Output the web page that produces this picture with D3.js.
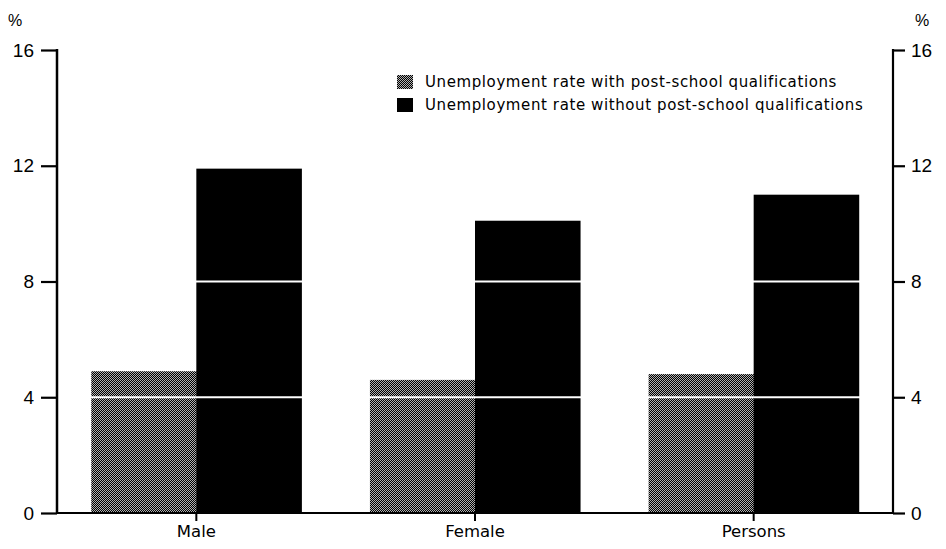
<!DOCTYPE html>
<html><head><meta charset="utf-8">
<script src="https://cdn.jsdelivr.net/npm/d3@7"></script>
<style>
html,body{margin:0;padding:0;background:#fff;}
text{font-family:"Liberation Sans",Arial,sans-serif;fill:#000;}
</style></head>
<body>
<svg id="chart" width="946" height="549"></svg>
<script>
const categories = ["Male", "Female", "Persons"];
const seriesNames = ["Unemployment rate with post-school qualifications",
                     "Unemployment rate without post-school qualifications"];
const withQual = [4.9, 4.6, 4.8];
const withoutQual = [11.9, 10.1, 11.0];
const yTicks = [0, 4, 8, 12, 16];

const svg = d3.select("#chart");
const left = 57, right = 893, yBottom = 513, yTop = 50;

const defs = svg.append("defs");
const pat = defs.append("pattern").attr("id","dither").attr("patternUnits","userSpaceOnUse")
  .attr("width",2).attr("height",2);
pat.append("rect").attr("width",2).attr("height",2).attr("fill","#000");
pat.append("rect").attr("x",0).attr("y",0).attr("width",1).attr("height",1).attr("fill","#b0b0b0");
pat.append("rect").attr("x",1).attr("y",1).attr("width",1).attr("height",1).attr("fill","#b0b0b0");

const x = d3.scaleBand().domain(categories).range([left, right]).paddingInner(0.246).paddingOuter(0.123);
const sub = d3.scaleBand().domain([0,1]).range([0, x.bandwidth()]);
const y = d3.scaleLinear().domain([0,16]).range([yBottom, yTop]);

const fills = ["url(#dither)", "#000"];
const data = categories.map((c,i)=>({cat:c, vals:[withQual[i], withoutQual[i]]}));

const g = svg.append("g");
data.forEach(d=>{
  d.vals.forEach((v,k)=>{
    g.append("rect")
      .attr("x", x(d.cat)+sub(k))
      .attr("y", y(v))
      .attr("width", sub.bandwidth()+0.5)
      .attr("height", y(0)-y(v))
      .attr("fill", fills[k]);
  });
});

// white gridlines across bars
svg.append("g").selectAll("line").data(yTicks.filter(t=>t>0 && t<16)).join("line")
  .attr("x1", left+1).attr("x2", right-1)
  .attr("y1", d=>y(d)).attr("y2", d=>y(d))
  .attr("stroke","#fff").attr("stroke-width",2);

// left axis
const leftAxis = d3.axisLeft(y).tickValues(yTicks).tickSize(16).tickPadding(7).tickFormat(d3.format("d"));
const gl = svg.append("g").attr("transform",`translate(${left},0)`).call(leftAxis);
// right axis
const rightAxis = d3.axisRight(y).tickValues(yTicks).tickSize(12).tickPadding(6).tickFormat(d3.format("d"));
const gr = svg.append("g").attr("transform",`translate(${right},0)`).call(rightAxis);
[gl,gr].forEach(a=>{
  a.select(".domain").remove();
  a.selectAll(".tick line").attr("stroke","#000").attr("stroke-width",2.2);
  a.selectAll(".tick text").style("font-size","19px");
});
svg.append("line").attr("x1",left).attr("x2",left).attr("y1",y(16)-1).attr("y2",y(0)+1).attr("stroke","#000").attr("stroke-width",2.5);
svg.append("line").attr("x1",right).attr("x2",right).attr("y1",y(16)-1).attr("y2",y(0)+1).attr("stroke","#000").attr("stroke-width",2.2);

// x axis
const xAxis = d3.axisBottom(x).tickSize(8).tickPadding(4);
const gx = svg.append("g").attr("transform",`translate(0,${yBottom})`).call(xAxis);
gx.select(".domain").remove();
gx.selectAll(".tick line").attr("stroke","#000").attr("stroke-width",2);
gx.selectAll(".tick text").style("font-size","16.5px").style("font-family","'DejaVu Sans',sans-serif");
svg.append("line").attr("x1",left).attr("x2",right).attr("y1",yBottom).attr("y2",yBottom).attr("stroke","#000").attr("stroke-width",2.2);

// % labels
svg.append("text").attr("x",15).attr("y",26).attr("text-anchor","middle").style("font-size","16px").text("%");
svg.append("text").attr("x",922).attr("y",26).attr("text-anchor","middle").style("font-size","16px").text("%");

// legend
const lg = svg.append("g").attr("transform","translate(397,75)");
seriesNames.forEach((n,i)=>{
  lg.append("rect").attr("x",0).attr("y",i*23).attr("width",16).attr("height",14).attr("fill",fills[i]);
  lg.append("text").attr("x",28).attr("y",i*23+12)
    .style("font-size","15px").style("font-family","'DejaVu Sans',sans-serif")
    .style("letter-spacing","0.6px").text(n);
});
</script>
</body></html>
